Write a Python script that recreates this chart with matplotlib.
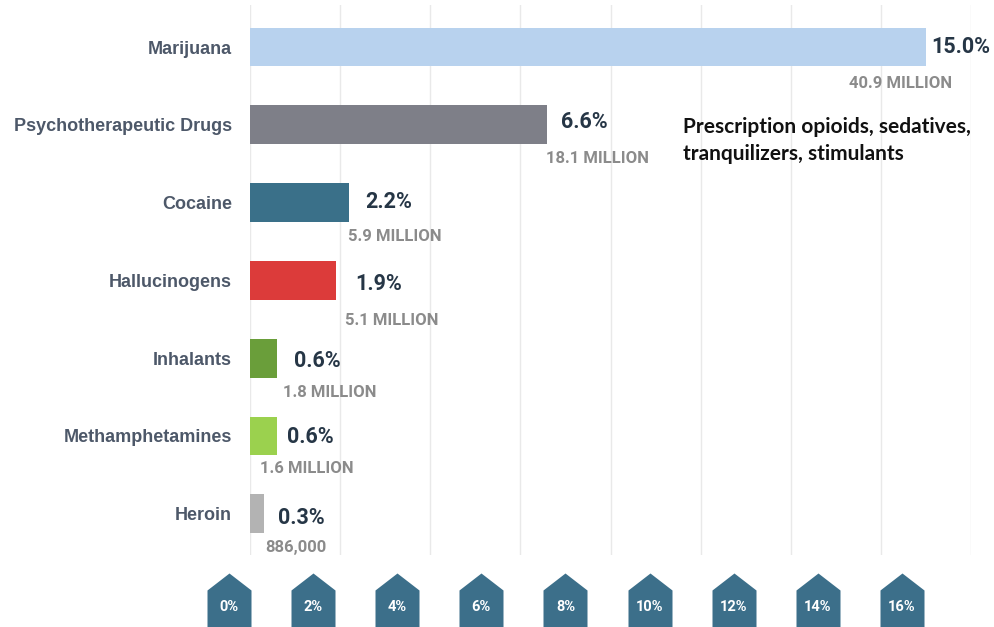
import numpy as np
import matplotlib.pyplot as plt
from matplotlib.path import Path

# data
drugs = ['Marijuana', 'Psychotherapeutic Drugs', 'Cocaine', 'Hallucinogens',
         'Inhalants', 'Methamphetamines', 'Heroin']
pct = [15.0, 6.6, 2.2, 1.9, 0.6, 0.6, 0.3]
users = ['40.9 MILLION', '18.1 MILLION', '5.9 MILLION', '5.1 MILLION',
         '1.8 MILLION', '1.6 MILLION', '886,000']
bar_colors = ['#b8d2ee', '#7e7f88', '#3a7089', '#dc3b3a', '#6a9e3a', '#9bd14e', '#b3b3b3']
ticks = [0, 2, 4, 6, 8, 10, 12, 14, 16]
tick_labels = ['0%', '2%', '4%', '6%', '8%', '10%', '12%', '14%', '16%']
note_lines = ['Prescription opioids, sedatives,', 'tranquilizers, stimulants']

NARROW = ['Roboto', 'DejaVu Sans']
W, H = 995, 627

fig = plt.figure(figsize=(W / 100, H / 100), dpi=100)

# main bar axes: 0% at x=250px, 16% at x=971px
ax = fig.add_axes([250 / W, 1 - 555 / H, 721 / W, 550 / H])
y = np.arange(len(drugs))
ax.barh(y, pct, height=0.5, color=bar_colors, zorder=2)
ax.set_xlim(0, 16)
ax.set_ylim(6.53, -0.54)
ax.set_xticks(ticks)
ax.grid(axis='x', color='#e9e9e9', lw=1, zorder=0)
ax.tick_params(axis='x', length=0, labelbottom=False)
ax.set_yticks(y)
ax.set_yticklabels(drugs, fontsize=13, fontweight='bold', color='#4d5869',
                   family=['Liberation Sans', 'DejaVu Sans'])
ax.tick_params(axis='y', length=0, pad=13)
for s in ax.spines.values():
    s.set_visible(False)

# value labels (pixel offsets from the bar end)
pct_dx = [5, 14, 16, 20, 17, 10, 14]
pct_dy = [0, 3, 1, -4, -3, -1, -4]
users_dx = [-77, -1, -1, 9, 6, -17, 2]
users_dy = [-36, -34, -34, -40, -34, -33, -34]
for i, (v, u) in enumerate(zip(pct, users)):
    ax.annotate(f'{v:.1f}%', xy=(v, i), xytext=(pct_dx[i], pct_dy[i]),
                textcoords='offset pixels', ha='left', va='center',
                fontsize=15.5, fontweight='bold', color='#263646',
                family=NARROW, annotation_clip=False)
    ax.annotate(u, xy=(v, i), xytext=(users_dx[i], users_dy[i]),
                textcoords='offset pixels', ha='left', va='center',
                fontsize=12, fontweight='bold', color='#8b8b8b',
                family=NARROW, annotation_clip=False)

# note about psychotherapeutic drugs
fig.text(683 / W, 1 - 133 / H, note_lines[0], ha='left', va='baseline',
         fontsize=15, fontweight='bold', color='#111111', family=['Lato', 'DejaVu Sans'])
fig.text(683 / W, 1 - 160 / H, note_lines[1], ha='left', va='baseline',
         fontsize=15, fontweight='bold', color='#111111', family=['Lato', 'DejaVu Sans'])

# pentagon tick markers along the bottom (0% at x=229px, 16% at x=902px)
ax2 = fig.add_axes([229 / W, 0, 673 / W, 70 / H])
ax2.set_xlim(0, 16)
ax2.set_ylim(0, 70)
ax2.axis('off')
verts = [(-22, -10), (-22, 37), (0, 54), (22, 37), (22, -10), (-22, -10)]
codes = [Path.MOVETO] + [Path.LINETO] * 4 + [Path.CLOSEPOLY]
house = Path(verts, codes)
ax2.plot(ticks, [0] * len(ticks), ls='none', marker=house,
         ms=2 * 54 * 0.72, color='#3c6f8a', mec='none', clip_on=False)
for t, lab in zip(ticks, tick_labels):
    ax2.text(t, 20, lab, ha='center', va='center', color='white',
             fontsize=10.5, fontweight='bold', family=NARROW)

fig.savefig('out.png', dpi=100)
